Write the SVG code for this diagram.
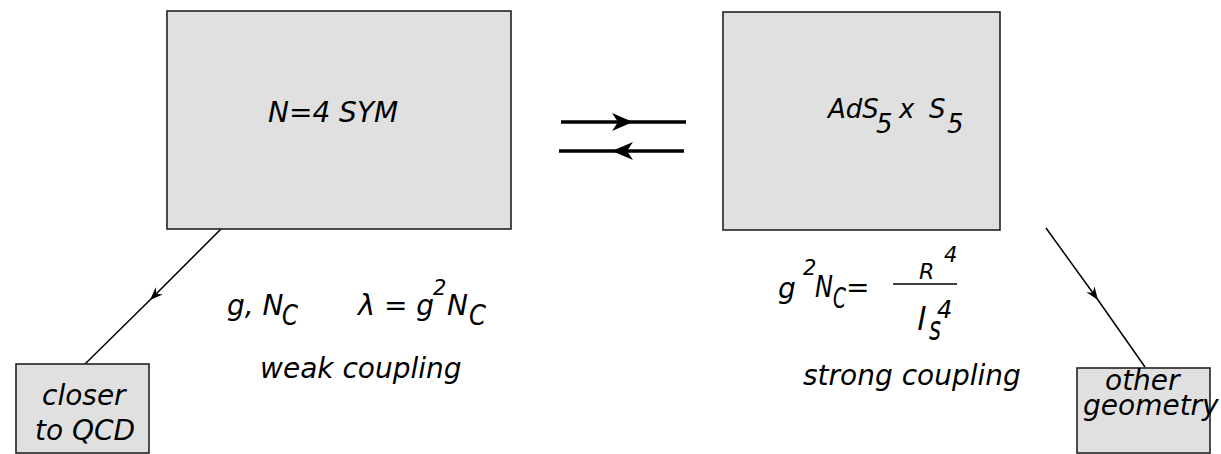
<svg xmlns="http://www.w3.org/2000/svg" width="1221" height="454" viewBox="0 0 1221 454">
<style>
.box{fill:#e0e0e0;stroke:#222;stroke-width:1.6}
text{font-family:"DejaVu Sans",sans-serif;font-style:italic;fill:#000}
.big{stroke:#000;stroke-width:3.6;fill:none}
.thin{stroke:#000;stroke-width:1.5;fill:none}
.sub{font-size:28px}
</style>
<defs>
<marker id="bigHead" markerUnits="userSpaceOnUse" viewBox="-22 -10 24 20" refX="0" refY="0" markerWidth="24" markerHeight="20" orient="auto" overflow="visible">
<path d="M0,0 L-21,-9 L-15,0 L-21,9 Z" fill="#000"/>
</marker>
<marker id="smallHead" markerUnits="userSpaceOnUse" viewBox="-14 -6 16 12" refX="0" refY="0" markerWidth="16" markerHeight="12" orient="auto" overflow="visible">
<path d="M0,0 L-13,-5 L-9,0 L-13,5 Z" fill="#000"/>
</marker>
</defs>
<g id="connectors">
<path class="big" d="M561,122 L633,122 L686,122" marker-mid="url(#bigHead)"/>
<path class="big" d="M684,151 L612,151 L559,151" marker-mid="url(#bigHead)"/>
<path class="thin" d="M222,228 L150,300 L85,364" marker-mid="url(#smallHead)"/>
<path class="thin" d="M1046,228 L1098,300 L1145,367" marker-mid="url(#smallHead)"/>
</g>
<g id="sym">
<rect class="box" x="167" y="11" width="344" height="218"/>
<text x="268" y="122" font-size="28">N=4 SYM</text>
</g>
<g id="ads">
<rect class="box" x="723" y="12" width="277" height="218"/>
<text font-size="26"><tspan x="828" y="118">AdS</tspan><tspan x="876" y="133">5</tspan><tspan x="899" y="118">x</tspan><tspan x="929" y="118">S</tspan><tspan x="947" y="133">5</tspan></text>
</g>
<g id="qcd">
<rect class="box" x="16" y="364" width="133" height="89"/>
<text x="42" y="405" font-size="28">closer</text>
<text x="35" y="440" font-size="28">to QCD</text>
</g>
<g id="geometry">
<rect class="box" x="1077" y="368" width="133" height="85"/>
<text x="1105" y="390" font-size="28">other</text>
<text x="1083" y="415" font-size="28">geometry</text>
</g>
<g id="weak">
<text x="227" y="315" font-size="28">g, N</text>
<text class="sub" x="282" y="325" textLength="16" lengthAdjust="spacingAndGlyphs">C</text>
<text x="358" y="315" font-size="29" font-style="normal">λ</text>
<text x="384" y="315" font-size="28">= g</text>
<text x="433" y="295" font-size="21">2</text>
<text x="447" y="315" font-size="28">N</text>
<text class="sub" x="469" y="325" textLength="17" lengthAdjust="spacingAndGlyphs">C</text>
<text x="260" y="378" font-size="28">weak coupling</text>
</g>
<g id="strong">
<text x="778" y="298" font-size="28">g</text>
<text x="803" y="275" font-size="21">2</text>
<text x="815" y="297" font-size="31" textLength="18" lengthAdjust="spacingAndGlyphs">N</text>
<text class="sub" x="833" y="308" textLength="13" lengthAdjust="spacingAndGlyphs">C</text>
<text x="846" y="297" font-size="28">=</text>
<line class="thin" x1="893" y1="284" x2="957" y2="284"/>
<text x="919" y="279" font-size="22">R</text>
<text x="944" y="262" font-size="21">4</text>
<text x="917" y="330" font-size="32">l</text>
<text x="929" y="340" font-size="34" textLength="12" lengthAdjust="spacingAndGlyphs">s</text>
<text x="937" y="318" font-size="24">4</text>
<text x="803" y="385" font-size="28">strong coupling</text>
</g>
</svg>
